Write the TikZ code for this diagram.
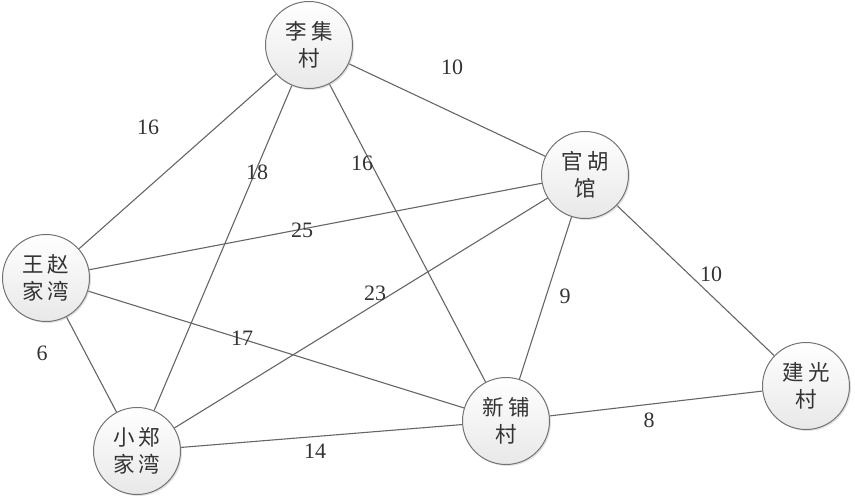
\documentclass[tikz,border=0pt]{standalone}
\usepackage{fontspec}
\newfontfamily\cjk{Noto Sans CJK SC}
\newfontfamily\numfont{Liberation Serif}
\usetikzlibrary{shadows,backgrounds}
\begin{document}
\begin{tikzpicture}[x=1pt,y=-1pt,
  town/.style={circle,draw=black!55,line width=1pt,minimum size=87pt,inner sep=0pt,
    top color=white,bottom color=black!9,
    drop shadow={shadow xshift=1.5pt,shadow yshift=-1.5pt,fill=black!25,opacity=0.45},
    align=center,font=\cjk\fontsize{21.5}{27}\selectfont,text=black!80},
  road/.style={draw=black!60,line width=1.1pt},
  wt/.style={font=\numfont\fontsize{22}{22}\selectfont,text=black!80,inner sep=0pt}]
\useasboundingbox (0,0) rectangle (855,498);
\node[town] (li) at (309,45) {李\kern4pt 集\\村};
\node[town] (guan) at (585,175) {官\kern4pt 胡\\馆};
\node[town] (wang) at (46,278) {王\kern4pt 赵\\家\kern4pt 湾};
\node[town] (xiao) at (137,451) {小\kern4pt 郑\\家\kern4pt 湾};
\node[town] (xin) at (506,421) {新\kern4pt 铺\\村};
\node[town] (jian) at (806,386) {建\kern4pt 光\\村};
\begin{scope}[on background layer]
\draw[road] (li) -- (wang);
\draw[road] (li) -- (guan);
\draw[road] (li) -- (xiao);
\draw[road] (li) -- (xin);
\draw[road] (wang) -- (guan);
\draw[road] (xiao) -- (guan);
\draw[road] (guan) -- (xin);
\draw[road] (guan) -- (jian);
\draw[road] (wang) -- (xin);
\draw[road] (wang) -- (xiao);
\draw[road] (xiao) -- (xin);
\draw[road] (xin) -- (jian);
\end{scope}
\node[wt] (w1) at (148,127) {16};
\node[wt] (w2) at (452,67) {10};
\node[wt] (w3) at (257,172) {18};
\node[wt] (w4) at (362,163) {16};
\node[wt] (w5) at (302,230) {25};
\node[wt] (w6) at (375,293) {23};
\node[wt] (w7) at (565,296) {9};
\node[wt] (w8) at (711,274) {10};
\node[wt] (w9) at (242,338) {17};
\node[wt] (w10) at (42,353) {6};
\node[wt] (w11) at (315,451) {14};
\node[wt] (w12) at (649,420) {8};
\end{tikzpicture}
\end{document}
